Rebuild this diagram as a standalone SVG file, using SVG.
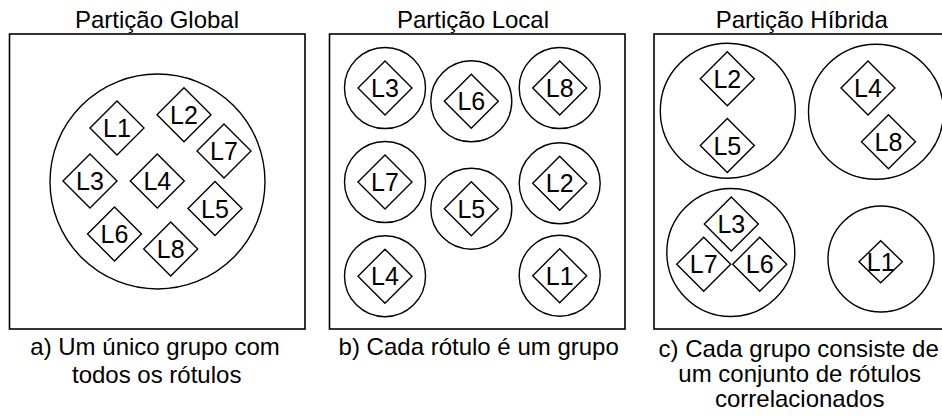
<svg xmlns="http://www.w3.org/2000/svg" xmlns:xlink="http://www.w3.org/1999/xlink" width="942" height="416" viewBox="0 0 942 416">
<style>
text{font-family:"Liberation Sans",Arial,sans-serif;fill:#000;text-anchor:middle}
.title{font-size:24px}
.cap{font-size:24px}
.lbl{font-size:25px}
.box{fill:#fff;stroke:#000;stroke-width:1.6}
.grp{fill:none;stroke:#000;stroke-width:1.4}
.dia{fill:#fff;stroke:#000;stroke-width:1.4}
</style>
<defs>
<path id="d" class="dia" d="M-27 0L0-27L27 0L0 27Z"/>
<path id="ds" class="dia" d="M-21.7 0L0-21L21.7 0L0 21Z"/>
</defs>
<rect width="942" height="416" fill="#fff"/>

<!-- Panel a -->
<g id="panel-a">
<text class="title" x="157" y="27.5">Partição Global</text>
<rect class="box" x="9.5" y="34" width="295.5" height="295"/>
<circle id="group-all" class="grp" cx="157.5" cy="181.5" r="107.5"/>
<g id="a-L1"><use xlink:href="#d" x="117" y="128"/><text class="lbl" x="117" y="137">L1</text></g>
<g id="a-L2"><use xlink:href="#d" x="184" y="114.7"/><text class="lbl" x="184" y="123.7">L2</text></g>
<g id="a-L7"><use xlink:href="#d" x="224" y="151"/><text class="lbl" x="224" y="160">L7</text></g>
<g id="a-L3"><use xlink:href="#d" x="90" y="181"/><text class="lbl" x="90" y="190">L3</text></g>
<g id="a-L4"><use xlink:href="#d" x="157.3" y="181"/><text class="lbl" x="157.3" y="190">L4</text></g>
<g id="a-L5"><use xlink:href="#d" x="215" y="208.5"/><text class="lbl" x="215" y="217.5">L5</text></g>
<g id="a-L6"><use xlink:href="#d" x="114.5" y="234"/><text class="lbl" x="114.5" y="243">L6</text></g>
<g id="a-L8"><use xlink:href="#d" x="170.7" y="249"/><text class="lbl" x="170.7" y="258">L8</text></g>
<text class="cap" x="155" y="355">a) Um único grupo com</text>
<text class="cap" x="156.7" y="383">todos os rótulos</text>
</g>

<!-- Panel b -->
<g id="panel-b">
<text class="title" x="473" y="27.5">Partição Local</text>
<rect class="box" x="329.5" y="34" width="295.5" height="295"/>
<g id="b-L3"><circle class="grp" cx="385" cy="88" r="40.5"/><use xlink:href="#d" x="385" y="88"/><text class="lbl" x="385" y="97">L3</text></g>
<g id="b-L6"><circle class="grp" cx="471.3" cy="101.3" r="40.5"/><use xlink:href="#d" x="471.3" y="101.3"/><text class="lbl" x="471.3" y="110.3">L6</text></g>
<g id="b-L8"><circle class="grp" cx="559.7" cy="88" r="40.5"/><use xlink:href="#d" x="559.7" y="88"/><text class="lbl" x="559.7" y="97">L8</text></g>
<g id="b-L7"><circle class="grp" cx="385" cy="182" r="40.5"/><use xlink:href="#d" x="385" y="182"/><text class="lbl" x="385" y="191">L7</text></g>
<g id="b-L2"><circle class="grp" cx="559.7" cy="183.3" r="40.5"/><use xlink:href="#d" x="559.7" y="183.3"/><text class="lbl" x="559.7" y="192.3">L2</text></g>
<g id="b-L5"><circle class="grp" cx="471.3" cy="208.7" r="40.5"/><use xlink:href="#d" x="471.3" y="208.7"/><text class="lbl" x="471.3" y="217.7">L5</text></g>
<g id="b-L4"><circle class="grp" cx="385" cy="276.2" r="40.5"/><use xlink:href="#d" x="385" y="276.2"/><text class="lbl" x="385" y="285.2">L4</text></g>
<g id="b-L1"><circle class="grp" cx="559.7" cy="275.7" r="40.5"/><use xlink:href="#d" x="559.7" y="275.7"/><text class="lbl" x="559.7" y="284.7">L1</text></g>
<text class="cap" x="478.7" y="355">b) Cada rótulo é um grupo</text>
</g>

<!-- Panel c -->
<g id="panel-c">
<text class="title" x="801.7" y="27.5">Partição Híbrida</text>
<rect class="box" x="654" y="34" width="295.5" height="295"/>
<g id="c-group-L2-L5">
<circle class="grp" cx="727.8" cy="110.8" r="67.5"/>
<g id="c-L2"><use xlink:href="#d" x="727.3" y="78.7"/><text class="lbl" x="727.3" y="87.7">L2</text></g>
<g id="c-L5"><use xlink:href="#d" x="727.3" y="145.5"/><text class="lbl" x="727.3" y="154.5">L5</text></g>
</g>
<g id="c-group-L4-L8">
<circle class="grp" cx="876" cy="111.7" r="67.5"/>
<g id="c-L4"><use xlink:href="#d" x="868" y="88"/><text class="lbl" x="868" y="97">L4</text></g>
<g id="c-L8"><use xlink:href="#d" x="888.5" y="141.7"/><text class="lbl" x="888.5" y="150.7">L8</text></g>
</g>
<g id="c-group-L3-L7-L6">
<circle class="grp" cx="730.8" cy="252.5" r="64"/>
<g id="c-L3"><use xlink:href="#d" x="731.3" y="224"/><text class="lbl" x="731.3" y="233">L3</text></g>
<g id="c-L7"><use xlink:href="#d" x="703.7" y="264.3"/><text class="lbl" x="703.7" y="273.3">L7</text></g>
<g id="c-L6"><use xlink:href="#d" x="759.7" y="264.3"/><text class="lbl" x="759.7" y="273.3">L6</text></g>
</g>
<g id="c-group-L1">
<circle class="grp" cx="881" cy="259" r="53"/>
<g id="c-L1"><use xlink:href="#ds" x="880.7" y="261.8"/><text class="lbl" x="880.7" y="270.8">L1</text></g>
</g>
<text class="cap" x="798.7" y="357">c) Cada grupo consiste de</text>
<text class="cap" x="799.7" y="382">um conjunto de rótulos</text>
<text class="cap" x="799.7" y="407">correlacionados</text>
</g>
<g id="connectors"/>
</svg>
